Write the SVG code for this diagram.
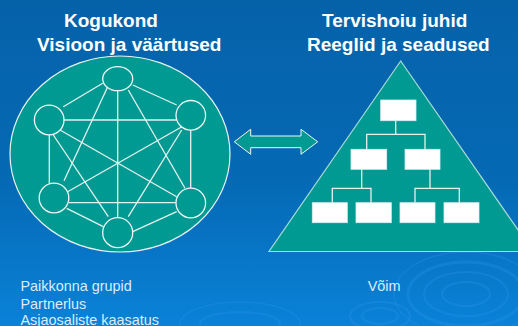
<svg xmlns="http://www.w3.org/2000/svg" width="518" height="326" viewBox="0 0 518 326">
<defs>
<linearGradient id="bg" x1="0" y1="0" x2="0" y2="1">
<stop offset="0" stop-color="#0562a9"/>
<stop offset="0.55" stop-color="#0569b4"/>
<stop offset="1" stop-color="#0a82d8"/>
</linearGradient>
<style>
.title{font-family:"Liberation Sans",Arial,sans-serif;font-weight:bold;font-size:19px;fill:#ffffff}
.lbl{font-family:"Liberation Sans",Arial,sans-serif;font-size:14.4px;fill:#dcecf8}
.teal{fill:#019a93}
.edge{stroke:#e4f2ee;stroke-width:1.3;fill:none}
.node{fill:#019a93;stroke:#eef8f6;stroke-width:1.3}
.box{fill:#ffffff;stroke:#d8eeea;stroke-width:0.8}
.ripple{fill:none;stroke:#2a96ea;stroke-opacity:0.3}
</style>
</defs>
<rect x="0" y="0" width="518" height="326" fill="url(#bg)"/>
<g id="ripples">
<ellipse class="ripple" cx="466" cy="294" rx="58" ry="32" stroke-width="3"/>
<ellipse class="ripple" cx="466" cy="294" rx="42" ry="22" stroke-width="2"/>
<ellipse class="ripple" cx="466" cy="294" rx="24" ry="12" stroke-width="2"/>
<ellipse class="ripple" cx="466" cy="294" rx="72" ry="42" stroke-width="1.5"/>
<ellipse class="ripple" cx="380" cy="316" rx="30" ry="14" stroke-width="2"/>
<ellipse class="ripple" cx="380" cy="316" rx="18" ry="8" stroke-width="2"/>
<ellipse class="ripple" cx="240" cy="324" rx="60" ry="22" stroke-width="1.5"/>
<ellipse class="ripple" cx="240" cy="324" rx="40" ry="12" stroke-width="2"/>
</g>
<g id="title-left">
<text class="title" x="64" y="27">Kogukond</text>
<text class="title" x="37" y="50.5">Visioon ja väärtused</text>
</g>
<g id="title-right">
<text class="title" x="322" y="26.7">Tervishoiu juhid</text>
<text class="title" x="307" y="50.5">Reeglid ja seadused</text>
</g>
<g id="community">
<ellipse class="teal" cx="120" cy="154" rx="110" ry="98" stroke="#e8f4f2" stroke-width="1.2"/>
<g id="network-edges">
<line class="edge" x1="102.7" y1="83.3" x2="63.3" y2="106.7"/>
<line class="edge" x1="132.7" y1="85" x2="176.7" y2="105"/>
<line class="edge" x1="117.7" y1="90.7" x2="117.7" y2="217.7"/>
<line class="edge" x1="107.7" y1="86.7" x2="64" y2="180.7"/>
<line class="edge" x1="128.3" y1="90" x2="185" y2="188.3"/>
<line class="edge" x1="64" y1="120" x2="176.5" y2="120"/>
<line class="edge" x1="49.3" y1="134.3" x2="49.3" y2="184"/>
<line class="edge" x1="60" y1="130" x2="176.7" y2="196.7"/>
<line class="edge" x1="53.3" y1="135" x2="108.3" y2="216.7"/>
<line class="edge" x1="185" y1="125" x2="65" y2="193.3"/>
<line class="edge" x1="181.7" y1="130" x2="128.3" y2="216.7"/>
<line class="edge" x1="190.7" y1="130" x2="190.7" y2="188.3"/>
<line class="edge" x1="69" y1="202.7" x2="176" y2="202.7"/>
<line class="edge" x1="66.7" y1="208.3" x2="103.3" y2="226.7"/>
<line class="edge" x1="176.7" y1="211.7" x2="132.7" y2="231.7"/>
</g>
<ellipse id="n-top" class="node" cx="117.7" cy="78.7" rx="15" ry="12"/>
<circle id="n-ul" class="node" cx="49.2" cy="120" r="14.8"/>
<circle id="n-ur" class="node" cx="190.8" cy="115.3" r="14.8"/>
<circle id="n-bl" class="node" cx="54" cy="198" r="14.8"/>
<circle id="n-br" class="node" cx="190.8" cy="203" r="14.8"/>
<circle id="n-b" class="node" cx="117.7" cy="232.7" r="15"/>
</g>
<g id="connectors">
<polygon class="teal" stroke="#eef8f6" stroke-width="1" points="234.3,141.8 250.7,129.3 250.7,136 301,136 301,129.3 317.7,141.8 301,154.3 301,147.7 250.7,147.7 250.7,154.3"/>
</g>
<g id="hierarchy">
<polygon class="teal" stroke="#a6dcd4" stroke-width="1.2" points="400.7,61 269,251.5 533,251.5"/>
<g>
<polyline class="edge" points="395.7,120.7 395.7,134.3"/>
<polyline class="edge" points="366.7,149.3 366.7,134.3 425,134.3 425,149.3"/>
<polyline class="edge" points="361.7,169.3 361.7,188.3"/>
<polyline class="edge" points="332.3,202.7 332.3,188.3 371,188.3 371,202.7"/>
<polyline class="edge" points="430,169.3 430,188.3"/>
<polyline class="edge" points="415,202.7 415,188.3 459.3,188.3 459.3,202.7"/>
</g>
<rect class="box" x="380.7" y="100" width="35.3" height="20.7"/>
<rect class="box" x="351" y="149.3" width="35.7" height="20"/>
<rect class="box" x="405" y="149.3" width="35" height="20"/>
<rect class="box" x="312.3" y="202.7" width="35" height="20"/>
<rect class="box" x="356" y="202.7" width="35.3" height="20"/>
<rect class="box" x="400" y="202.7" width="35" height="20"/>
<rect class="box" x="444" y="202.7" width="35" height="20"/>
</g>
<g id="labels">
<text class="lbl" x="20.5" y="291">Paikkonna grupid</text>
<text class="lbl" x="20.5" y="308.5">Partnerlus</text>
<text class="lbl" x="20.5" y="324.5">Asjaosaliste kaasatus</text>
<text class="lbl" x="367.7" y="290.7">Võim</text>
</g>
</svg>
